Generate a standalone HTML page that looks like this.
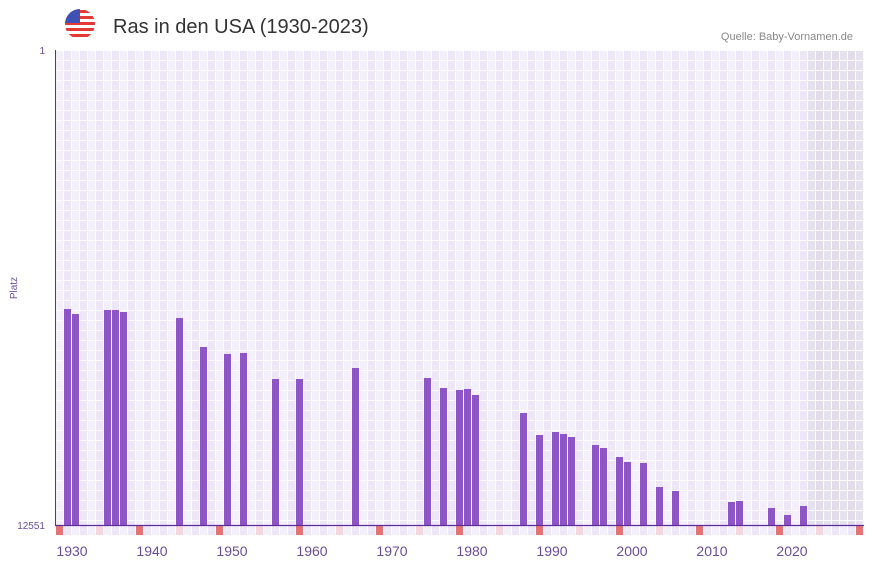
<!DOCTYPE html>
<html><head><meta charset="utf-8"><style>
body{margin:0;background:#fff;width:873px;height:567px;overflow:hidden;font-family:"Liberation Sans",sans-serif}
</style></head><body>
<svg width="873" height="567" xmlns="http://www.w3.org/2000/svg">
<defs>
<clipPath id="fc"><circle cx="80" cy="24" r="15"/></clipPath>
</defs>
<g clip-path="url(#fc)">
<rect x="65" y="9" width="30" height="30" fill="#fff"/>
<rect x="65" y="10" width="30" height="3" fill="#e53935"/>
<rect x="65" y="16" width="30" height="3" fill="#e53935"/>
<rect x="65" y="22" width="30" height="3" fill="#e53935"/>
<rect x="65" y="28" width="30" height="3" fill="#e53935"/>
<rect x="65" y="34" width="30" height="3" fill="#e53935"/>
<rect x="65" y="9" width="15" height="14" fill="#3f51b5"/>
</g>
<text x="113" y="33" font-size="20" fill="#333">Ras in den USA (1930-2023)</text>
<text x="853" y="40" font-size="11" fill="#888" text-anchor="end">Quelle: Baby-Vornamen.de</text>
<text x="45" y="54" font-size="10" fill="#6a4c9c" text-anchor="end">1</text>
<text x="45" y="529" font-size="10" fill="#6a4c9c" text-anchor="end">12551</text>
<text transform="translate(17,288) rotate(-90)" font-size="10" fill="#6a4c9c" text-anchor="middle">Platz</text>
<g id="grid"></g>
<g id="bars"></g>
<line x1="55.5" y1="50" x2="55.5" y2="526" stroke="#5b2d9b" stroke-width="1"/>
<line x1="55" y1="525.5" x2="864" y2="525.5" stroke="#5b2d9b" stroke-width="1.2"/>
<g font-size="14" fill="#6a4c9c" text-anchor="middle" id="xl"></g>
</svg>
<script>
var ns="http://www.w3.org/2000/svg";
function el(p,t,a){var e=document.createElementNS(ns,t);for(var k in a)e.setAttribute(k,a[k]);p.appendChild(e);return e;}
var g=document.getElementById("grid");
el(g,"rect",{x:56,y:50,width:808,height:485,fill:"#fff"});
for(var k=0;k<101;k++){
 var x=56+8*k;
 var c=(k%2==0)?"#f3effb":"#ece6f7";
 if(k>=94)c=(k%2==0)?"#e6e1ee":"#e1dbea";
 for(var r=0;r<48;r++){
  var y=50+10*r;
  var h=Math.min(9,525-y);
  el(g,"rect",{x:x,y:y+1,width:7,height:h,fill:c});
 }
 var mc=(k%2==0)?"#f3effb":"#ece6f7";
 if(k%10==0)mc="#e57373";else if(k%10==5)mc="#f5d6df";
 el(g,"rect",{x:x,y:526,width:7,height:9,fill:mc});
}
var bars=[[64,309],[72,314],[104,310],[112,310],[120,312],[176,318],[200,347],[224,354],[240,353],[272,379],[296,379],[352,368],[424,378],[440,388],[456,390],[464,389],[472,395],[520,413],[536,435],[552,432],[560,434],[568,437],[592,445],[600,448],[616,457],[624,462],[640,463],[656,487],[672,491],[728,502],[736,501],[768,508],[784,515],[800,506]];
var b=document.getElementById("bars");
bars.forEach(function(p){el(b,"rect",{x:p[0],y:p[1],width:7,height:525-p[1],fill:"#8e55c8"});});
var xl=document.getElementById("xl");
for(var i=0;i<10;i++){var t=el(xl,"text",{x:72+80*i,y:556});t.textContent=String(1930+10*i);}
</script>
</body></html>
